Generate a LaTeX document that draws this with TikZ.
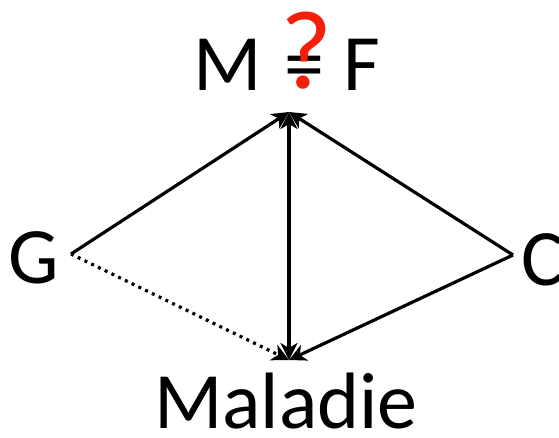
\documentclass[tikz,border=0pt]{standalone}
\usepackage{fontspec}
\setmainfont{Carlito}
\usetikzlibrary{arrows.meta}
\definecolor{qred}{RGB}{245,30,10}
\begin{document}
\begin{tikzpicture}[x=1pt,y=-1pt,
  lbl/.style={inner sep=0pt, font=\fontsize{80}{90}\selectfont, anchor=base west},
  tip/.tip={Stealth[length=17pt,width=17pt,inset=5pt]},
  conn/.style={line width=3.2pt, -tip},
  dotconn/.style={line width=3.2pt, dash pattern=on 3pt off 4.5pt, -tip}]
\useasboundingbox (0,0) rectangle (559,437);
% labels
\node[lbl] (M) at (193,90) {M};
\node[lbl] (eq) at (284,90) {=};
\node[lbl] (F) at (343,90) {F};
\node[inner sep=0pt, anchor=base, text=qred, font=\fontsize{112}{120}\selectfont] (q) at (306,88) {?};
\node[lbl] (G) at (8,283) {G};
\node[lbl] (C) at (521,285) {C};
\node[lbl, anchor=base] (Mal) at (286,428) {Maladie};
% connector endpoints
\coordinate (gp) at (71,254);
\coordinate (cp) at (513,255);
\coordinate (tp) at (289,112);
\coordinate (bp) at (289,360);
% connectors
\draw[conn] (gp) -- (tp);
\draw[conn] (cp) -- (tp);
\draw[conn, tip-tip] (bp) -- (tp);
\draw[dotconn] (gp) -- (bp);
\draw[conn] (cp) -- (bp);
\end{tikzpicture}
\end{document}
